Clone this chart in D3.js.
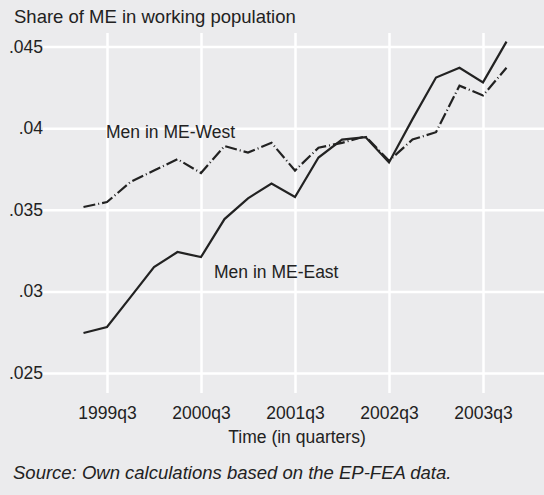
<!DOCTYPE html>
<html>
<head>
<meta charset="utf-8">
<script src="https://cdn.jsdelivr.net/npm/d3@7"></script>
<style>
  body { margin: 0; background: #ebebed; }
  svg { display: block; font-family: "Liberation Sans", Arial, sans-serif; }
</style>
</head>
<body>
<svg id="chart" width="544" height="495"></svg>
<script>
// quarters 1999q2 .. 2003q4
const quarters = ["1999q2","1999q3","1999q4","2000q1","2000q2","2000q3","2000q4",
  "2001q1","2001q2","2001q3","2001q4","2002q1","2002q2","2002q3","2002q4",
  "2003q1","2003q2","2003q3","2003q4"];
const eastValues = [0.02745,0.02782,0.02965,0.03149,0.03241,0.0321,0.03443,
  0.0357,0.0366,0.03578,0.0382,0.0393,0.03945,0.0379,0.04055,
  0.0431,0.0437,0.0428,0.0453];
const westValues = [0.03517,0.03547,0.0367,0.0374,0.0381,0.03725,0.0389,
  0.0385,0.0391,0.0374,0.0388,0.0391,0.0395,0.0380,0.0393,
  0.03975,0.0426,0.0420,0.0437];
const xTicks = ["1999q3","2000q3","2001q3","2002q3","2003q3"];
const yTicks = [0.025,0.03,0.035,0.04,0.045];

// "1999q3" -> 1999.5
const qNum = (s) => +s.slice(0, 4) + (+s.slice(5) - 1) / 4;

const svg = d3.select("#chart");
const ink = "#222";

const xScale = d3.scaleLinear().domain([1999.5, 2003.5]).range([107, 483]);
const yScale = d3.scaleLinear().domain([0.025, 0.045]).range([373, 46.5]);

// horizontal grid + y labels
const yAxis = svg.append("g")
  .attr("transform", "translate(43,0)")
  .call(d3.axisRight(yScale).tickValues(yTicks).tickSize(501)
    .tickFormat((d) => String(d).replace(/^0/, "")));
yAxis.select(".domain").remove();
yAxis.selectAll(".tick line").attr("stroke", "#fff").attr("stroke-width", 2.5);
yAxis.selectAll(".tick text")
  .attr("x", 0).attr("dx", 0).attr("text-anchor", "end")
  .attr("fill", ink).attr("font-size", 17.5);

// vertical grid
const xGrid = svg.append("g")
  .attr("transform", "translate(0,393)")
  .call(d3.axisTop(xScale).tickValues(xTicks.map(qNum)).tickSize(360).tickFormat(""));
xGrid.select(".domain").remove();
xGrid.selectAll(".tick line").attr("stroke", "#fff").attr("stroke-width", 2.5);

// x labels
const xAxis = svg.append("g")
  .attr("transform", "translate(0,393)")
  .call(d3.axisBottom(xScale).tickValues(xTicks.map(qNum)).tickSize(0)
    .tickFormat((d, i) => xTicks[i]));
xAxis.select(".domain").remove();
xAxis.selectAll(".tick text").attr("y", 26).attr("dy", 0)
  .attr("fill", ink).attr("font-size", 17.5);

const line = (vals) => d3.line()
  .x((d, i) => xScale(qNum(quarters[i])))
  .y((d) => yScale(d))(vals);

svg.append("path")
  .attr("d", line(westValues))
  .attr("fill", "none").attr("stroke", ink).attr("stroke-width", 2.2)
  .attr("stroke-dasharray", "12,3,1,3");

svg.append("path")
  .attr("d", line(eastValues))
  .attr("fill", "none").attr("stroke", ink).attr("stroke-width", 2.2);

// labels
const txt = (x, y, s, size, extra) => {
  const t = svg.append("text").attr("x", x).attr("y", y)
    .attr("fill", ink).attr("font-size", size).text(s);
  if (extra) extra(t);
  return t;
};
txt(14, 23, "Share of ME in working population", 18.5);
txt(106, 138, "Men in ME-West", 17.5);
txt(214, 278, "Men in ME-East", 17.5);
txt(297, 443, "Time (in quarters)", 17.5, (t) => t.attr("text-anchor", "middle"));
txt(13, 479, "Source: Own calculations based on the EP-FEA data.", 18.5,
  (t) => t.attr("font-style", "italic"));
</script>
</body>
</html>
